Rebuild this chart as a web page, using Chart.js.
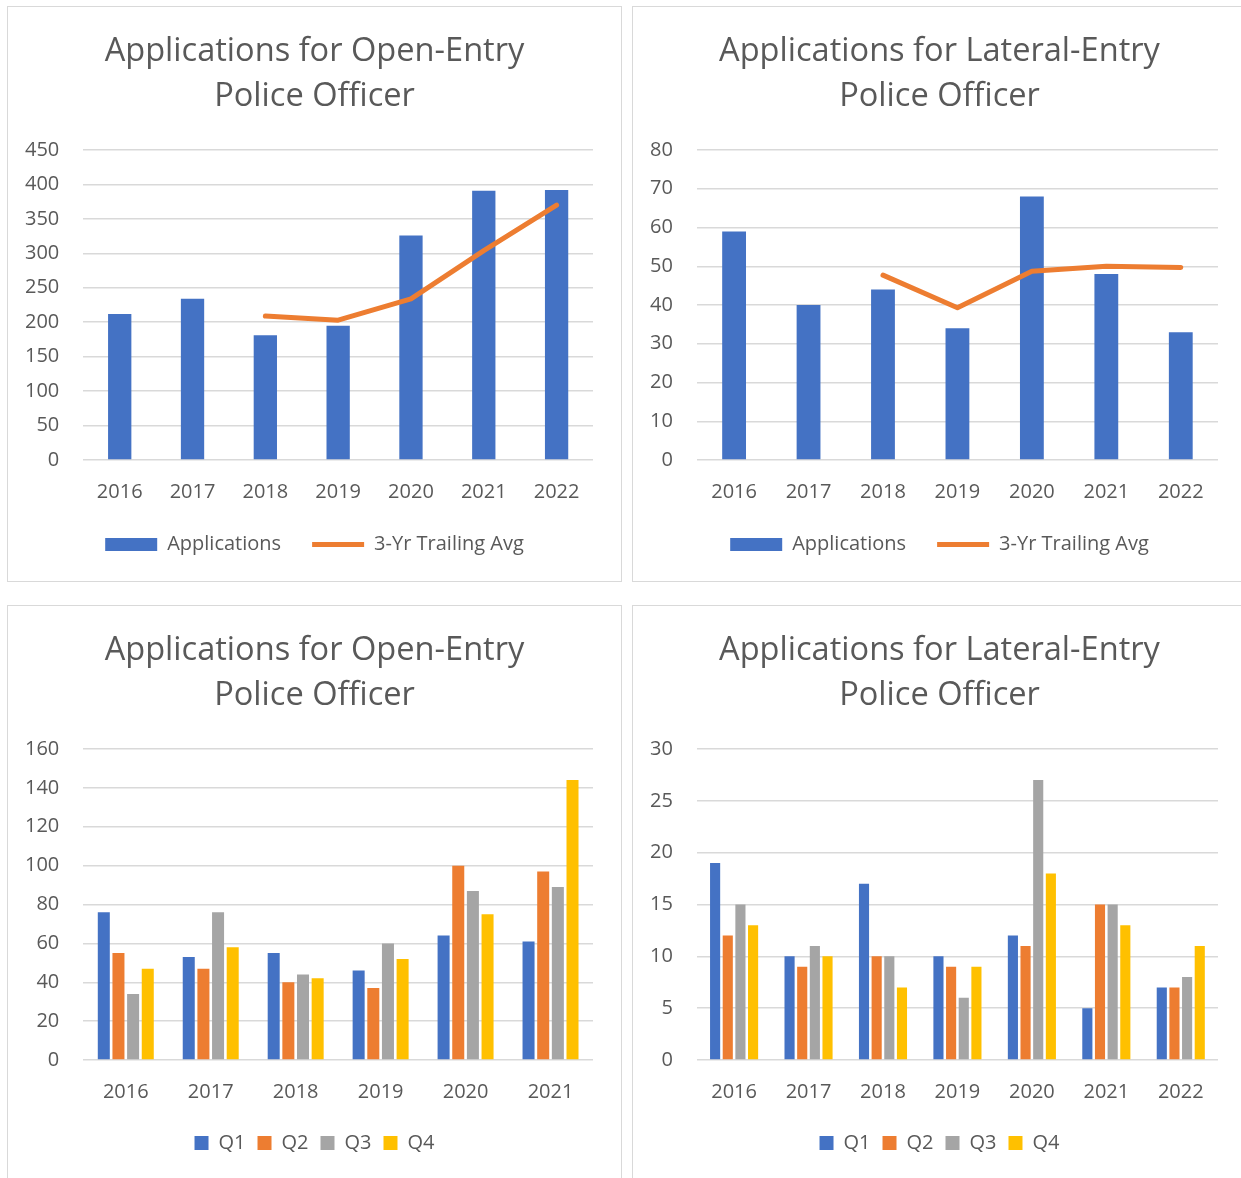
<!DOCTYPE html>
<html>
<head>
<meta charset="utf-8">
<script src="https://cdn.jsdelivr.net/npm/chart.js@4/dist/chart.umd.min.js"></script>
<style>
  body { margin: 0; background: #fff; width: 1241px; height: 1178px; overflow: hidden; position: relative; }
  .panel { position: absolute; width: 613px; height: 574px; border: 1px solid #D9D9D9; background: #fff; }
  .panel canvas { display: block; }
</style>
</head>
<body>
<div class="panel" style="left:7px; top:6px;"><canvas id="openYear" width="613" height="574"></canvas></div>
<div class="panel" style="left:632px; top:6px;"><canvas id="lateralYear" width="613" height="574"></canvas></div>
<div class="panel" style="left:7px; top:605px;"><canvas id="openQuarter" width="613" height="574"></canvas></div>
<div class="panel" style="left:632px; top:605px;"><canvas id="lateralQuarter" width="613" height="574"></canvas></div>

<script>
// Years shown on each chart
const yearsAll = ['2016', '2017', '2018', '2019', '2020', '2021', '2022'];
const yearsOpenQ = ['2016', '2017', '2018', '2019', '2020', '2021'];

// Yearly applications
const openApps = [212, 234, 181, 195, 326, 391, 392];
const openAvg = [null, null, 209, 203, 234, 304, 370];
const lateralApps = [59, 40, 44, 34, 68, 48, 33];
const lateralAvg = [null, null, 47.7, 39.3, 48.7, 50, 49.7];

// Quarterly applications, open-entry (2016-2021)
const openQ1 = [76, 53, 55, 46, 64, 61];
const openQ2 = [55, 47, 40, 37, 100, 97];
const openQ3 = [34, 76, 44, 60, 87, 89];
const openQ4 = [47, 58, 42, 52, 75, 144];

// Quarterly applications, lateral-entry (2016-2022)
const latQ1 = [19, 10, 17, 10, 12, 5, 7];
const latQ2 = [12, 9, 10, 9, 11, 15, 7];
const latQ3 = [15, 11, 10, 6, 27, 15, 8];
const latQ4 = [13, 10, 7, 9, 18, 13, 11];

// Axis limits and steps
const openYearMax = 450, openYearStep = 50;
const lateralYearMax = 80, lateralYearStep = 10;
const openQMax = 160, openQStep = 20;
const latQMax = 30, latQStep = 5;

const BLUE = '#4472C4', ORANGE = '#ED7D31', GRAY = '#A5A5A5', GOLD = '#FFC000';
const TEXT = '#595959', GRID = '#D9D9D9';
const FONT = "'Open Sans', sans-serif";

Chart.defaults.font.family = FONT;
Chart.defaults.color = TEXT;

// bottomPad: space under legend, axisH: room kept for the year labels
function baseOptions(title, max, step, legendLabels, bottomPad, axisH) {
    return {
        responsive: false,
        animation: false,
        layout: { padding: { left: -7, right: -7, top: 0, bottom: bottomPad } },
        plugins: {
            title: {
                display: true,
                text: title,
                color: TEXT,
                font: { size: 32.6, weight: 'normal', lineHeight: 45 / 32.6 },
                padding: { top: 22, bottom: 31 }
            },
            legend: {
                position: 'bottom',
                labels: legendLabels
            },
            tooltip: { enabled: false }
        },
        scales: {
            x: {
                grid: { display: false, drawTicks: false },
                border: { display: false },
                ticks: { color: TEXT, font: { size: 20 }, padding: 20 },
                afterFit: function(scale) { scale.height = axisH; }
            },
            y: {
                min: 0,
                max: max,
                grid: { color: GRID, lineWidth: 1.5, drawTicks: false },
                border: { display: false },
                ticks: { stepSize: step, color: TEXT, font: { size: 20 }, padding: 24 }
            },
            // empty spacer on the right so the plot ends where the original does
            y2: {
                position: 'right',
                grid: { display: false },
                border: { display: false },
                ticks: { display: false },
                afterFit: function(scale) { scale.width = 35; }
            }
        }
    };
}

// Legend for bar + line charts: rectangle for bars, thick line for the average
const comboLegend = {
    color: TEXT,
    font: { size: 20 },
    usePointStyle: true,
    pointStyleWidth: 52,
    boxHeight: 13,
    padding: 31,
    sort: (a, b) => a.datasetIndex - b.datasetIndex,
    generateLabels: function(chart) {
        const items = Chart.defaults.plugins.legend.labels.generateLabels(chart);
        items.forEach(item => {
            item.pointStyle = chart.data.datasets[item.datasetIndex].type === 'line' ? 'line' : 'rect';
        });
        return items;
    }
};

const quarterLegend = {
    color: TEXT,
    font: { size: 20 },
    boxWidth: 14,
    boxHeight: 14,
    padding: 12
};

function comboChart(id, title, labels, apps, avg, max, step) {
    new Chart(document.getElementById(id), {
        type: 'bar',
        data: {
            labels: labels,
            datasets: [{
                label: 'Applications',
                data: apps,
                backgroundColor: BLUE,
                borderWidth: 0,
                categoryPercentage: 0.8,
                barPercentage: 0.4,
                order: 1
            }, {
                type: 'line',
                label: '3-Yr Trailing Avg',
                data: avg,
                borderColor: ORANGE,
                backgroundColor: ORANGE,
                borderWidth: 5,
                borderCapStyle: 'round',
                borderJoinStyle: 'round',
                pointRadius: 0,
                tension: 0,
                order: 0
            }]
        },
        options: baseOptions(title, max, step, comboLegend, 16.5, 43.5)
    });
}

function quarterChart(id, title, labels, q1, q2, q3, q4, max, step, catPct, barPct) {
    const mk = (name, data, color) => ({
        label: name,
        data: data,
        backgroundColor: color,
        borderWidth: 0,
        categoryPercentage: catPct,
        barPercentage: barPct
    });
    new Chart(document.getElementById(id), {
        type: 'bar',
        data: {
            labels: labels,
            datasets: [mk('Q1', q1, BLUE), mk('Q2', q2, ORANGE), mk('Q3', q3, GRAY), mk('Q4', q4, GOLD)]
        },
        options: baseOptions(title, max, step, quarterLegend, 17, 61)
    });
}

comboChart('openYear', ['Applications for Open-Entry', 'Police Officer'], yearsAll, openApps, openAvg, openYearMax, openYearStep);
comboChart('lateralYear', ['Applications for Lateral-Entry', 'Police Officer'], yearsAll, lateralApps, lateralAvg, lateralYearMax, lateralYearStep);
quarterChart('openQuarter', ['Applications for Open-Entry', 'Police Officer'], yearsOpenQ, openQ1, openQ2, openQ3, openQ4, openQMax, openQStep, 0.69, 0.82);
quarterChart('lateralQuarter', ['Applications for Lateral-Entry', 'Police Officer'], yearsAll, latQ1, latQ2, latQ3, latQ4, latQMax, latQStep, 0.68, 0.8);
</script>
</body>
</html>
